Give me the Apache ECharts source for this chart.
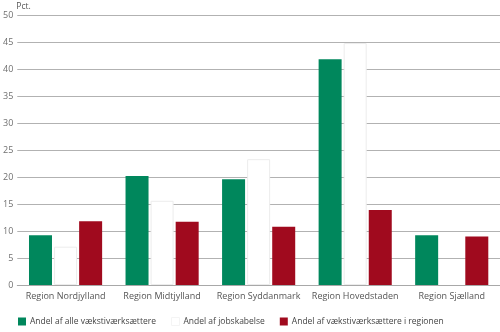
<!DOCTYPE html>
<html>
<head>
<meta charset="utf-8">
<script src="https://cdn.jsdelivr.net/npm/echarts@6/dist/echarts.min.js"></script>
<style>
  html, body { margin: 0; padding: 0; background: #fff; }
  #chart { width: 500px; height: 332px; }
</style>
</head>
<body>
<div id="chart"></div>
<script>
// Regional share of growth entrepreneurs and job creation (pct.)
const regions = ['Region Nordjylland', 'Region Midtjylland', 'Region Syddanmark', 'Region Hovedstaden', 'Region Sjælland'];
const shareAllGrowth = [9.2, 20.2, 19.6, 41.8, 9.2];
const shareJobs = [7.1, 15.6, 23.3, 44.8, '-'];
const shareGrowthInRegion = [11.8, 11.7, 10.8, 13.9, 9.0];
const yTicks = [0, 5, 10, 15, 20, 25, 30, 35, 40, 45, 50];

const seriesNames = ['Andel af alle vækstiværksættere', 'Andel af jobskabelse', 'Andel af vækstiværksættere i regionen'];
const FONT = '"Open Sans", "Noto Sans", sans-serif';

const chart = echarts.init(document.getElementById('chart'), null, { renderer: 'canvas' });
chart.setOption({
  animation: false,
  textStyle: { fontFamily: FONT },
  grid: { left: 16, right: 0, top: 15, bottom: 47, containLabel: false },
  legend: {
    left: 13, bottom: 1,
    itemWidth: 8, itemHeight: 8, itemGap: 15,
    icon: 'rect',
    textStyle: { fontSize: 8.5, color: '#444', fontFamily: FONT, padding: [0, 0, 0, -1] },
    data: [
      { name: seriesNames[0] },
      { name: seriesNames[1], itemStyle: { color: '#ffffff', borderColor: '#f4f4f4', borderWidth: 1 } },
      { name: seriesNames[2] }
    ]
  },
  xAxis: {
    type: 'category',
    data: regions,
    axisLine: { show: true, lineStyle: { color: '#a8a8a8', width: 1 } },
    axisTick: { show: false },
    axisLabel: { fontSize: 9, color: '#555', margin: 7, interval: 0 }
  },
  yAxis: {
    type: 'value',
    min: yTicks[0], max: yTicks[yTicks.length - 1], interval: 5,
    name: 'Pct.',
    nameLocation: 'end',
    nameGap: 4,
    nameTextStyle: { fontSize: 8.5, color: '#555', align: 'left', padding: [0, 0, 0, -1] },
    axisLine: { show: false },
    axisTick: { show: false },
    axisLabel: { fontSize: 9, color: '#707070', margin: 4 },
    splitLine: { lineStyle: { color: '#b2b2b2', width: 1 } }
  },
  series: [
    {
      name: seriesNames[0], type: 'bar', data: shareAllGrowth,
      barWidth: 23, barGap: '9%',
      itemStyle: { color: '#00875c' }
    },
    {
      name: seriesNames[1], type: 'bar', data: shareJobs,
      barWidth: 23, barGap: '9%',
      itemStyle: { color: '#ffffff', borderColor: '#ececec', borderWidth: 1 }
    },
    {
      name: seriesNames[2], type: 'bar', data: shareGrowthInRegion,
      barWidth: 23, barGap: '9%',
      itemStyle: { color: '#a00a1e' }
    }
  ]
});
</script>
</body>
</html>
